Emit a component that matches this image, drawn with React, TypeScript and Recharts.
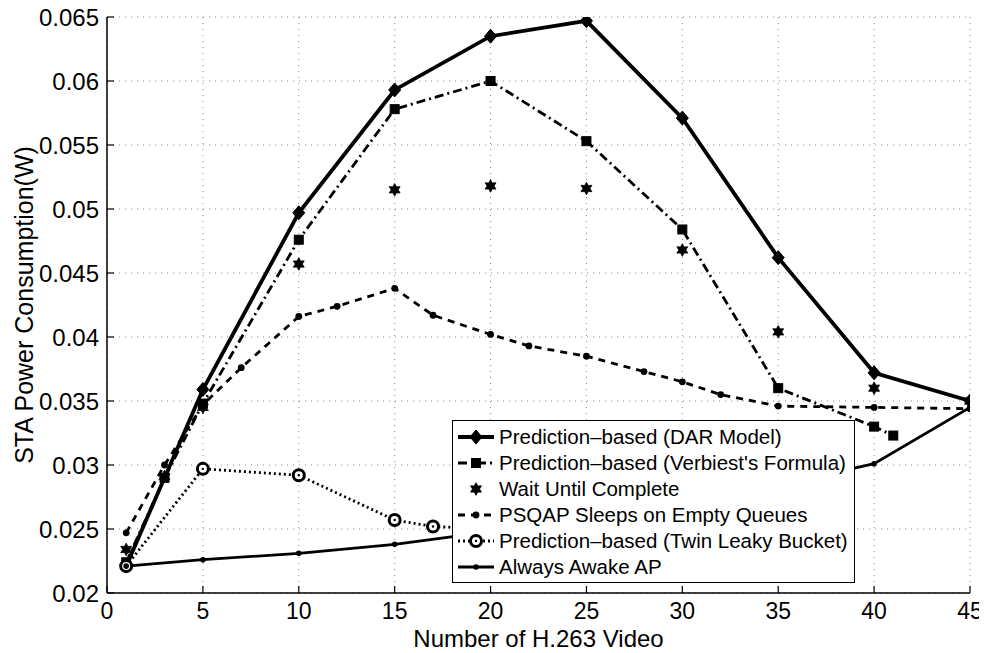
import React from 'react';
import { LineChart, Line, XAxis, YAxis, CartesianGrid, Legend } from 'recharts';

const seriesNames = [
  'Prediction–based (DAR Model)',
  "Prediction–based (Verbiest's Formula)",
  'Wait Until Complete',
  'PSQAP Sleeps on Empty Queues',
  'Prediction–based (Twin Leaky Bucket)',
  'Always Awake AP',
];

const xTicks = [0, 5, 10, 15, 20, 25, 30, 35, 40, 45];
const yTicks = [0.02, 0.025, 0.03, 0.035, 0.04, 0.045, 0.05, 0.055, 0.06, 0.065];

const xDar = [1, 5, 10, 15, 20, 25, 30, 35, 40, 45];
const dar = [0.0221, 0.0359, 0.0497, 0.0593, 0.0635, 0.0647, 0.0571, 0.0462, 0.0372, 0.035];

const xVerb = [1, 3, 5, 10, 15, 20, 25, 30, 35, 40, 41];
const verb = [0.0224, 0.029, 0.0348, 0.0476, 0.0578, 0.06, 0.0553, 0.0484, 0.036, 0.033, 0.0323];

const xWait = [1, 3, 5, 10, 15, 20, 25, 30, 35, 40, 45];
const wait = [0.0234, 0.0291, 0.0345, 0.0457, 0.0515, 0.0518, 0.0516, 0.0468, 0.0404, 0.036, 0.035];

const xPsqap = [1, 3, 5, 7, 10, 12, 15, 17, 20, 22, 25, 28, 30, 32, 35, 40, 45];
const psqap = [0.0247, 0.03, 0.0347, 0.0376, 0.0416, 0.0424, 0.0438, 0.0417, 0.0402, 0.0393, 0.0385, 0.0373, 0.0365, 0.0355, 0.0346, 0.0345, 0.0344];

const xTwin = [1, 5, 10, 15, 17, 20];
const twin = [0.0221, 0.0297, 0.0292, 0.0257, 0.0252, 0.025];

const xAwake = [1, 5, 10, 15, 20, 25, 30, 35, 40, 45];
const awake = [0.0221, 0.0226, 0.0231, 0.0238, 0.0248, 0.0258, 0.027, 0.0284, 0.0301, 0.0345];

const toPts = (xs: number[], ys: number[]) => xs.map((x, i) => ({ x, y: ys[i] }));

const FONT = '"Liberation Sans", Arial, Helvetica, sans-serif';
const INK = '#000';

const Diamond = ({ cx, cy }: any) => (
  <polygon points={`${cx},${cy - 7} ${cx + 6},${cy} ${cx},${cy + 7} ${cx - 6},${cy}`} fill={INK} stroke={INK} strokeWidth={1} />
);
const Square = ({ cx, cy }: any) => (
  <rect x={cx - 4.5} y={cy - 4.5} width={9} height={9} fill={INK} stroke={INK} strokeWidth={1} />
);
const Hexagram = ({ cx, cy }: any) => {
  const pts: string[] = [];
  for (let k = 0; k < 12; k++) {
    const a = -Math.PI / 2 + (k * Math.PI) / 6;
    const r = k % 2 === 0 ? 6.3 : 3.5;
    pts.push(`${cx + r * Math.cos(a)},${cy + r * Math.sin(a)}`);
  }
  return <polygon points={pts.join(' ')} fill={INK} stroke={INK} strokeWidth={0.8} />;
};
const SmallDot = ({ cx, cy, r = 3.2 }: any) => <circle cx={cx} cy={cy} r={r} fill={INK} />;
const Ring = ({ cx, cy }: any) => (
  <g>
    <circle cx={cx} cy={cy} r={5.5} fill="#fff" stroke={INK} strokeWidth={3} />
    <circle cx={cx} cy={cy} r={1.2} fill={INK} />
  </g>
);

type Meta = { width: number; dash?: string; marker: (p: any) => React.ReactElement; line: boolean };
const styles: Meta[] = [
  { width: 3.8, marker: Diamond, line: true },
  { width: 2.8, dash: '9 4 2 4', marker: Square, line: true },
  { width: 0, marker: Hexagram, line: false },
  { width: 2.8, dash: '7 6', marker: (p: any) => <SmallDot {...p} r={3.4} />, line: true },
  { width: 2.8, dash: '2 3', marker: Ring, line: true },
  { width: 2.8, marker: (p: any) => <SmallDot {...p} r={2.8} />, line: true },
];

const TICK_MARGIN_X = 10;

const XTick = (props: any) => {
  const { x, y, payload } = props;
  const base = y - TICK_MARGIN_X;
  return (
    <g>
      <line x1={x} x2={x} y1={base} y2={base - 7} stroke={INK} strokeWidth={1.2} />
      <text x={x} y={y} dy="0.71em" textAnchor="middle" fontSize={23} fontFamily={FONT} fill={INK}>
        {payload.value}
      </text>
    </g>
  );
};

const YTick = (props: any) => {
  const { x, y, payload } = props;
  const base = x + 8;
  return (
    <g>
      <line x1={base} x2={base + 7} y1={y} y2={y} stroke={INK} strokeWidth={1.2} />
      <text x={x} y={y} dy="0.36em" textAnchor="end" fontSize={24} fontFamily={FONT} fill={INK}>
        {String(payload.value)}
      </text>
    </g>
  );
};

const YLabel = (props: any) => {
  const vb = props.viewBox || { x: 0, y: 17, width: 99, height: 576 };
  const cx = vb.x + 16;
  const cy = vb.y + vb.height / 2;
  return (
    <text x={cx} y={cy} transform={`rotate(-90 ${cx} ${cy})`} textAnchor="middle" dominantBaseline="central" fontSize={25} fontFamily={FONT} fill={INK}>
      STA Power Consumption(W)
    </text>
  );
};

const LegendBox = () => (
  <div
    style={{
      boxSizing: 'border-box',
      width: 403,
      height: 163,
      border: '1.5px solid #000',
      background: '#fff',
      padding: '3px 0 0 0',
      fontFamily: FONT,
      fontSize: 20.5,
      color: INK,
    }}
  >
    {seriesNames.map((name, i) => {
      const s = styles[i];
      const M = s.marker;
      return (
        <div key={name} style={{ height: 26, display: 'flex', alignItems: 'center', whiteSpace: 'nowrap' }}>
          <svg width={46} height={26} style={{ flex: '0 0 auto' }}>
            {s.line && (
              <line x1={5} x2={41} y1={13} y2={13} stroke={INK} strokeWidth={s.width} strokeDasharray={s.dash} />
            )}
            <M cx={23} cy={13} />
          </svg>
          <span style={{ lineHeight: '26px' }}>{name}</span>
        </div>
      );
    })}
  </div>
);

const seriesData = [
  toPts(xDar, dar),
  toPts(xVerb, verb),
  toPts(xWait, wait),
  toPts(xPsqap, psqap),
  toPts(xTwin, twin),
  toPts(xAwake, awake),
];

export default function App() {
  return (
    <div style={{ fontFamily: FONT, width: 979, height: 653, marginTop: -8 }}>
      <LineChart width={979} height={653} margin={{ top: 17, right: 17, left: 0, bottom: 0 }}>
        <CartesianGrid stroke="#888" strokeDasharray="1 5" strokeWidth={1} />
        <XAxis
          dataKey="x"
          type="number"
          domain={[0, 45]}
          ticks={xTicks}
          allowDataOverflow
          height={60}
          tickSize={0}
          tickMargin={TICK_MARGIN_X}
          tickLine={false}
          axisLine={{ stroke: INK, strokeWidth: 1.5 }}
          tick={<XTick />}
          label={{ value: 'Number of H.263 Video', position: 'insideBottom', offset: 6, fontSize: 24, fill: INK, fontFamily: FONT }}
        />
        <XAxis
          xAxisId="top"
          orientation="top"
          mirror
          type="number"
          domain={[0, 45]}
          ticks={xTicks}
          allowDataOverflow
          height={0}
          tick={false}
          tickSize={7}
          axisLine={{ stroke: INK, strokeWidth: 1.5 }}
          tickLine={{ stroke: INK, strokeWidth: 1.2 }}
        />
        <YAxis
          type="number"
          domain={[0.02, 0.065]}
          ticks={yTicks}
          allowDataOverflow
          width={99}
          tickSize={0}
          tickMargin={8}
          tickLine={false}
          axisLine={{ stroke: INK, strokeWidth: 1.5 }}
          tick={<YTick />}
          label={{ content: <YLabel /> }}
        />
        <YAxis
          yAxisId="right"
          orientation="right"
          mirror
          type="number"
          domain={[0.02, 0.065]}
          ticks={yTicks}
          allowDataOverflow
          width={0}
          tick={false}
          tickSize={7}
          axisLine={{ stroke: INK, strokeWidth: 1.5 }}
          tickLine={{ stroke: INK, strokeWidth: 1.2 }}
        />
        {seriesData.map((d, i) => {
          const s = styles[i];
          const M = s.marker;
          return (
            <Line
              key={seriesNames[i]}
              name={seriesNames[i]}
              data={d}
              dataKey="y"
              type="linear"
              stroke={s.line ? INK : 'none'}
              strokeWidth={s.line ? s.width : 0}
              strokeDasharray={s.dash}
              dot={(p: any) => <M key={`${i}-${p.index}`} cx={p.cx} cy={p.cy} />}
              activeDot={false}
              isAnimationActive={false}
            />
          );
        })}
        <Legend
          layout="horizontal"
          verticalAlign="middle"
          align="center"
          content={<LegendBox />}
          wrapperStyle={{ left: 444, top: 420, width: 403, height: 163 }}
        />
      </LineChart>
    </div>
  );
}
